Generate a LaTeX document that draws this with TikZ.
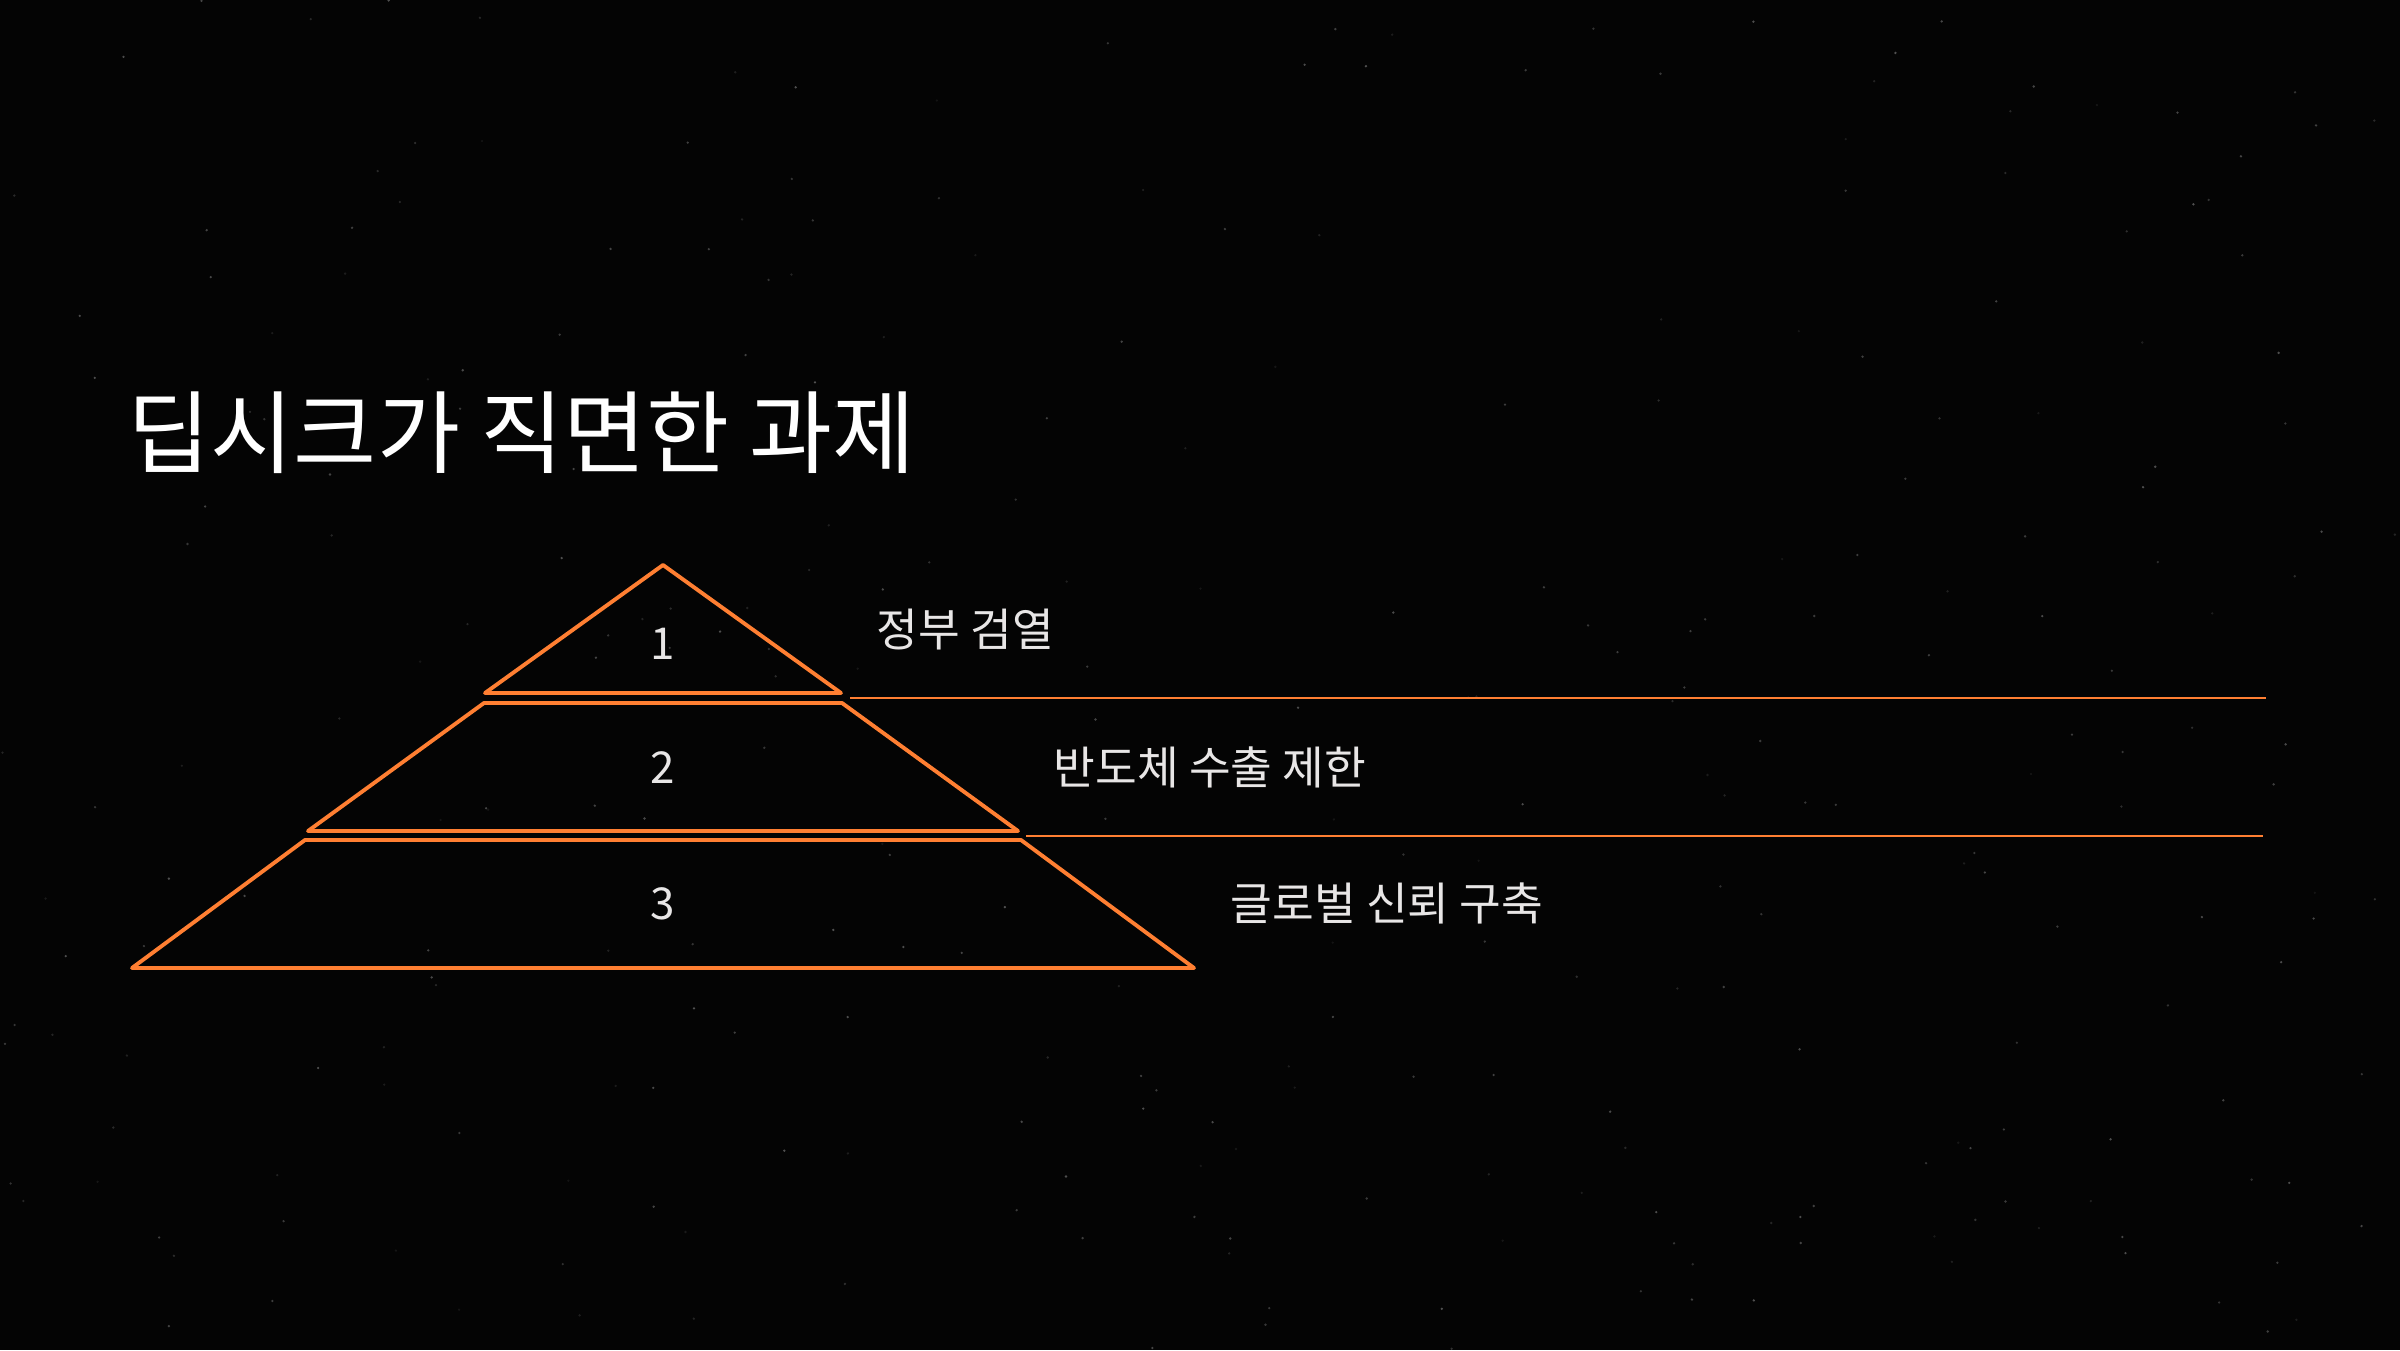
\documentclass[tikz,border=0pt]{standalone}
\usepackage{fontspec}
\usepackage{xcolor}
\newfontfamily\titlefont{Noto Sans CJK KR}
\newfontfamily\labelfont{Noto Sans CJK KR}
\definecolor{skycolor}{RGB}{4, 4, 4}
\definecolor{pyramidcolor}{RGB}{255, 127, 50}
\definecolor{labelcolor}{RGB}{232, 230, 230}

\tikzset{
  tier/.style={draw=pyramidcolor, line width=1.1pt, line join=round},
  divider/.style={draw=pyramidcolor, line width=0.5pt},
  tiernum/.style={text=labelcolor, font=\labelfont\fontsize{12.5}{14}\selectfont, inner sep=0pt},
  tierlabel/.style={text=labelcolor, font=\labelfont\fontsize{12.9}{15}\selectfont, inner sep=0pt, anchor=west},
}

\begin{document}
\begin{tikzpicture}[x=0.1mm, y=-0.1mm]
        \useasboundingbox[fill=skycolor] (0, 0) rectangle (2400, 1350); % 16:9 slide
        % Stars {{{
        \pgfmathsetseed{17}
        \foreach \i in {1,...,300} {
                \pgfmathsetmacro\op{0.06+0.25*rnd}
                \fill[white, opacity=\op] (rnd*2400, rnd*1350) circle(1.3);
        }
        % }}}
        % Title {{{
        \node[anchor=west, inner sep=0pt, text=white, font=\titlefont\fontsize{25.7}{30}\selectfont] (title) at (127, 433) {딥시크가 직면한 과제};
        % }}}
        % Pyramid {{{
        \draw[tier] (663, 565) -- (841, 693) -- (485, 693) -- cycle; % Top
        \draw[tier] (484, 703) -- (842, 703) -- (1018, 831) -- (308, 831) -- cycle; % Middle
        \draw[tier] (305, 840) -- (1021, 840) -- (1194, 968) -- (132, 968) -- cycle; % Base
        \node[tiernum] (num1) at (663, 644) {1};
        \node[tiernum] (num2) at (663, 768) {2};
        \node[tiernum] (num3) at (663, 904) {3};
        % }}}
        % Labels and dividers {{{
        \node[tierlabel] (label1) at (876, 630) {정부 검열};
        \node[tierlabel] (label2) at (1053, 767) {반도체 수출 제한};
        \node[tierlabel] (label3) at (1230, 903) {글로벌 신뢰 구축};
        \coordinate (div1a) at (850, 698);
        \coordinate (div1b) at (2266, 698);
        \coordinate (div2a) at (1026, 836);
        \coordinate (div2b) at (2263, 836);
        \draw[divider] (div1a) -- (div1b);
        \draw[divider] (div2a) -- (div2b);
        % }}}
\end{tikzpicture}
\end{document}
